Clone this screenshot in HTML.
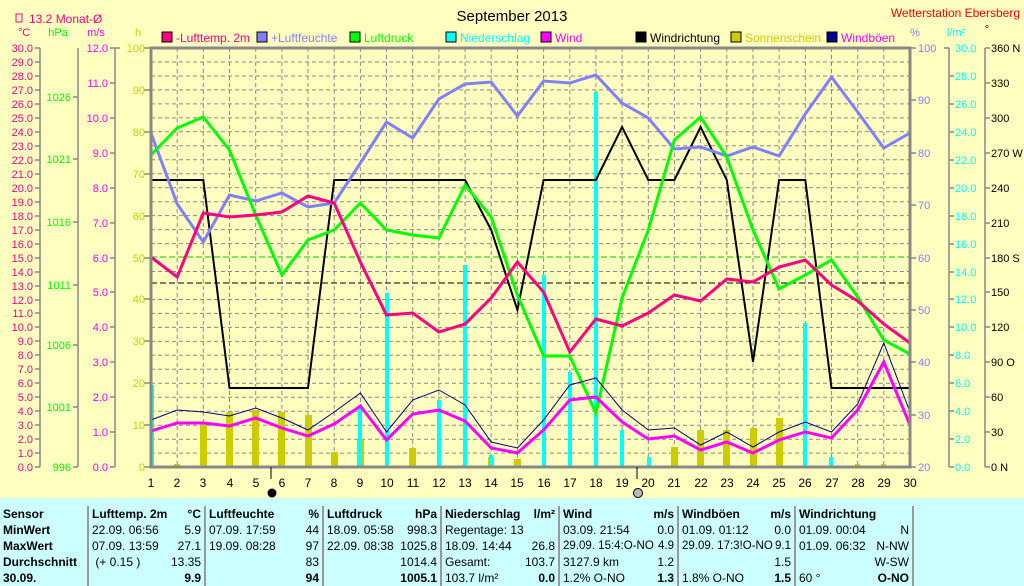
<!DOCTYPE html>
<html><head><meta charset="utf-8"><style>
body{margin:0;width:1024px;height:575px;overflow:hidden;background:#ffffc0;font-family:"Liberation Sans",sans-serif}
svg{position:absolute;left:0;top:0}
table{position:absolute;left:0;top:498px;width:1024px;border-collapse:collapse;background:#ccffff;font-size:12px;table-layout:fixed}
td{padding:0 3px;height:16px;white-space:nowrap;vertical-align:middle;overflow:hidden}
td>div{display:flex;justify-content:space-between;white-space:nowrap;height:16px;line-height:16px}
.b{font-weight:bold}
.s{border-right:2px solid #999}
.n{font-size:11.5px}
</style></head><body>
<svg width="1024" height="498" viewBox="0 0 1024 498" font-family="Liberation Sans, sans-serif" font-size="11">
<rect x="151" y="48" width="759" height="419" fill="#ffffc0"/>
<g stroke="#888" stroke-dasharray="4,3" stroke-width="1">
<path d="M177.2 48V467M203.3 48V467M229.5 48V467M255.7 48V467M281.9 48V467M308 48V467M334.2 48V467M360.4 48V467M386.5 48V467M412.7 48V467M438.9 48V467M465.1 48V467M491.2 48V467M517.4 48V467M543.6 48V467M569.8 48V467M595.9 48V467M622.1 48V467M648.3 48V467M674.4 48V467M700.6 48V467M726.8 48V467M753 48V467M779.1 48V467M805.3 48V467M831.5 48V467M857.7 48V467M883.8 48V467"/>
<path d="M151 62H910M151 76H910M151 89.9H910M151 103.9H910M151 117.9H910M151 131.8H910M151 145.8H910M151 159.8H910M151 173.7H910M151 187.7H910M151 201.7H910M151 215.6H910M151 229.6H910M151 243.6H910M151 271.5H910M151 299.5H910M151 313.4H910M151 327.4H910M151 341.4H910M151 355.3H910M151 369.3H910M151 383.3H910M151 397.2H910M151 411.2H910M151 425.2H910M151 439.2H910M151 453.1H910"/>
</g>
<line x1="151" y1="257" x2="910" y2="257" stroke="#00cc00" stroke-dasharray="6,3"/>
<line x1="151" y1="283" x2="910" y2="283" stroke="#000" stroke-dasharray="6,3"/>
<g fill="#cccc00">
<rect x="174" y="464" width="6" height="3"/><rect x="200" y="425" width="7" height="42"/><rect x="226" y="412" width="7" height="55"/><rect x="252" y="410" width="7" height="57"/><rect x="278" y="412" width="7" height="55"/><rect x="305" y="415" width="7" height="52"/><rect x="331" y="452" width="7" height="15"/><rect x="357" y="440" width="7" height="27"/><rect x="409" y="448" width="7" height="19"/><rect x="488" y="457" width="6" height="10"/><rect x="514" y="459" width="7" height="8"/><rect x="671" y="447" width="7" height="20"/><rect x="697" y="430" width="7" height="37"/><rect x="723" y="430" width="7" height="37"/><rect x="750" y="428" width="7" height="39"/><rect x="776" y="418" width="7" height="49"/><rect x="855" y="464" width="5" height="3"/><rect x="881" y="464" width="5" height="3"/>
</g>
<g fill="#00ffff">
<rect x="150" y="385" width="4" height="82"/><rect x="358" y="405" width="4" height="62"/><rect x="385" y="293" width="4" height="174"/><rect x="437" y="400" width="4" height="67"/><rect x="463" y="265" width="4" height="202"/><rect x="489" y="455" width="4" height="12"/><rect x="542" y="275" width="4" height="192"/><rect x="568" y="372" width="4" height="95"/><rect x="594" y="92" width="4" height="375"/><rect x="620" y="430" width="4" height="37"/><rect x="647" y="457" width="4" height="10"/><rect x="803" y="323" width="4" height="144"/><rect x="829" y="457" width="4" height="10"/>
</g>
<g fill="none" stroke-linejoin="miter">
<polyline stroke="#000" stroke-width="2" points="151,180 177.2,180 203.3,180 229.5,388 255.7,388 281.9,388 308,388 334.2,180 360.4,180 386.5,180 412.7,180 438.9,180 465.1,180 491.2,230 517.4,310 543.6,180 569.8,180 595.9,180 622.1,127 648.3,180 674.4,180 700.6,127 726.8,180 753,362 779.1,180 805.3,180 831.5,388 857.7,388 883.8,388 910,388"/>
<polyline stroke="#8080ff" stroke-width="3" points="151,133 177.2,204 203.3,242 229.5,195 255.7,201 281.9,193 308,207 334.2,203 360.4,163 386.5,122 412.7,138 438.9,99 465.1,84 491.2,82 517.4,116 543.6,81 569.8,83 595.9,75 622.1,103 648.3,118 674.4,149 700.6,147 726.8,156 753,147 779.1,156 805.3,114 831.5,77 857.7,112 883.8,148 910,133"/>
<polyline stroke="#00ff00" stroke-width="3" points="151,155 177.2,128 203.3,117 229.5,150 255.7,215 281.9,275 308,240 334.2,230 360.4,203 386.5,230 412.7,235 438.9,238 465.1,185 491.2,217 517.4,295 543.6,356 569.8,356 595.9,413 622.1,298 648.3,230 674.4,140 700.6,117 726.8,157 753,230 779.1,289 805.3,275 831.5,260 857.7,297 883.8,340 910,354"/>
<polyline stroke="#ff0080" stroke-width="3" points="151,257 177.2,277 203.3,213 229.5,217 255.7,215 281.9,212 308,196 334.2,203 360.4,262 386.5,315 412.7,313 438.9,332 465.1,324 491.2,298 517.4,262 543.6,292 569.8,352 595.9,319 622.1,326 648.3,313 674.4,295 700.6,301 726.8,279 753,282 779.1,267 805.3,260 831.5,285 857.7,301 883.8,324 910,343"/>
<polyline stroke="#000080" stroke-width="1" points="151,420 177.2,410 203.3,412 229.5,416 255.7,408 281.9,418 308,430 334.2,412 360.4,393 386.5,432 412.7,400 438.9,390 465.1,405 491.2,442 517.4,448 543.6,420 569.8,385 595.9,378 622.1,410 648.3,430 674.4,428 700.6,445 726.8,432 753,447 779.1,432 805.3,422 831.5,432 857.7,404 883.8,343 910,412"/>
<polyline stroke="#ff00ff" stroke-width="3" points="151,431 177.2,423 203.3,423 229.5,426 255.7,418 281.9,428 308,436 334.2,424 360.4,406 386.5,440 412.7,414 438.9,410 465.1,421 491.2,448 517.4,453 543.6,430 569.8,400 595.9,397 622.1,422 648.3,439 674.4,436 700.6,450 726.8,442 753,453 779.1,440 805.3,432 831.5,438 857.7,410 883.8,362 910,425"/>
</g>
<rect x="151" y="48" width="759" height="419" fill="none" stroke="#888" stroke-width="3"/>
<g stroke="#888" stroke-width="1.5">
<path d="M40 48V467M78 48V467M115 48V467M949 48V467M985 48V467"/>
<path d="M35 48h5M35 62h5M35 76h5M35 90h5M35 104h5M35 118h5M35 132h5M35 146h5M35 160h5M35 174h5M35 188h5M35 202h5M35 216h5M35 230h5M35 244h5M35 258h5M35 272h5M35 286h5M35 300h5M35 313h5M35 327h5M35 341h5M35 355h5M35 369h5M35 383h5M35 397h5M35 411h5M35 425h5M35 439h5M35 453h5M35 467h5"/>
<path d="M73 97h5M73 159h5M73 222h5M73 285h5M73 345h5M73 407h5M73 467h5"/>
<path d="M110 48h10M110 83h5M110 118h5M110 153h5M110 188h5M110 223h5M110 258h5M110 292h5M110 327h5M110 362h5M110 397h5M110 432h5M110 467h5"/>
<path d="M144 48h7M144 90h7M144 132h7M144 174h7M144 216h7M144 258h7M144 299h7M144 341h7M144 383h7M144 425h7M144 467h7"/>
<path d="M910 48h6M910 100h6M910 153h6M910 205h6M910 258h6M910 310h6M910 362h6M910 415h6M910 467h6"/>
<path d="M944 48h5M949 76h5M949 104h5M949 132h5M949 160h5M949 188h5M949 216h5M949 244h5M949 272h5M949 299h5M949 327h5M949 355h5M949 383h5M949 411h5M949 439h5M949 467h5"/>
<path d="M985 48h5M985 83h5M985 118h5M985 153h5M985 188h5M985 223h5M985 258h5M985 292h5M985 327h5M985 362h5M985 397h5M985 432h5M985 467h5"/>
</g>
<text x="512" y="21" font-size="15" text-anchor="middle" fill="#000">September 2013</text>
<text x="1020" y="17" font-size="12" text-anchor="end" fill="#ff0000">Wetterstation Ebersberg</text>
<rect x="16" y="14" width="6" height="8" fill="none" stroke="#ff0080"/>
<text x="29" y="23" font-size="12" fill="#ff0080">13.2 Monat-Ø</text>
<text x="24" y="36" fill="#ff0080" text-anchor="middle">°C</text>
<text x="58" y="36" fill="#00ff00" text-anchor="middle">hPa</text>
<text x="96" y="36" fill="#ff00ff" text-anchor="middle">m/s</text>
<text x="138" y="36" fill="#cccc00" text-anchor="middle">h</text>
<text x="915" y="36" fill="#8080ff" text-anchor="middle">%</text>
<text x="956" y="36" fill="#00ffff" text-anchor="middle">l/m²</text>
<text x="987" y="33" fill="#000" text-anchor="middle">°</text>
<g font-size="12">
<rect x="162" y="32" width="10" height="10" fill="#ff0080" stroke="#000"/><text x="176" y="42" fill="#ff0080">-Lufttemp. 2m</text>
<rect x="257" y="32" width="10" height="10" fill="#8080ff" stroke="#000"/><text x="271" y="42" fill="#8080ff">+Luftfeuchte</text>
<rect x="350" y="32" width="10" height="10" fill="#00ff00" stroke="#000"/><text x="364" y="42" fill="#00ff00">Luftdruck</text>
<rect x="446" y="32" width="10" height="10" fill="#00ffff" stroke="#000"/><text x="460" y="42" fill="#00ffff">Niederschlag</text>
<rect x="541" y="32" width="10" height="10" fill="#ff00ff" stroke="#000"/><text x="555" y="42" fill="#ff00ff">Wind</text>
<rect x="636" y="32" width="10" height="10" fill="#000" stroke="#000"/><text x="650" y="42" fill="#000">Windrichtung</text>
<rect x="731" y="32" width="10" height="10" fill="#cccc00" stroke="#000"/><text x="745" y="42" fill="#cccc00">Sonnenschein</text>
<rect x="827" y="32" width="10" height="10" fill="#000099" stroke="#000"/><text x="841" y="42" fill="#ff00ff">Windböen</text>
</g>
<g fill="#ff0080" text-anchor="end" font-size="11">
<text x="33" y="52">30.0</text><text x="33" y="66">29.0</text><text x="33" y="80">28.0</text><text x="33" y="94">27.0</text><text x="33" y="108">26.0</text><text x="33" y="122">25.0</text><text x="33" y="136">24.0</text><text x="33" y="150">23.0</text><text x="33" y="164">22.0</text><text x="33" y="178">21.0</text><text x="33" y="192">20.0</text><text x="33" y="206">19.0</text><text x="33" y="220">18.0</text><text x="33" y="234">17.0</text><text x="33" y="248">16.0</text><text x="33" y="262">15.0</text><text x="33" y="276">14.0</text><text x="33" y="290">13.0</text><text x="33" y="304">12.0</text><text x="33" y="317">11.0</text><text x="33" y="331">10.0</text><text x="33" y="345">9.0</text><text x="33" y="359">8.0</text><text x="33" y="373">7.0</text><text x="33" y="387">6.0</text><text x="33" y="401">5.0</text><text x="33" y="415">4.0</text><text x="33" y="429">3.0</text><text x="33" y="443">2.0</text><text x="33" y="457">1.0</text><text x="33" y="471">0.0</text>
</g>
<g fill="#00ff00" text-anchor="end"><text x="71" y="101">1026</text><text x="71" y="163">1021</text><text x="71" y="226">1016</text><text x="71" y="289">1011</text><text x="71" y="349">1006</text><text x="71" y="411">1001</text><text x="71" y="471">996</text></g>
<g fill="#ff00ff" text-anchor="end"><text x="108" y="52">12.0</text><text x="108" y="87">11.0</text><text x="108" y="122">10.0</text><text x="108" y="157">9.0</text><text x="108" y="192">8.0</text><text x="108" y="227">7.0</text><text x="108" y="262">6.0</text><text x="108" y="296">5.0</text><text x="108" y="331">4.0</text><text x="108" y="366">3.0</text><text x="108" y="401">2.0</text><text x="108" y="436">1.0</text><text x="108" y="471">0.0</text></g>
<g fill="#cccc00" text-anchor="end"><text x="145" y="52">100</text><text x="145" y="94">90</text><text x="145" y="136">80</text><text x="145" y="178">70</text><text x="145" y="220">60</text><text x="145" y="262">50</text><text x="145" y="303">40</text><text x="145" y="345">30</text><text x="145" y="387">20</text><text x="145" y="429">10</text><text x="145" y="471">0</text></g>
<g fill="#8080ff"><text x="918" y="52">100</text><text x="918" y="104">90</text><text x="918" y="157">80</text><text x="918" y="209">70</text><text x="918" y="262">60</text><text x="918" y="314">50</text><text x="918" y="366">40</text><text x="918" y="419">30</text><text x="918" y="471">20</text></g>
<g fill="#00ffff"><text x="955" y="52">30.0</text><text x="955" y="80">28.0</text><text x="955" y="108">26.0</text><text x="955" y="136">24.0</text><text x="955" y="164">22.0</text><text x="955" y="192">20.0</text><text x="955" y="220">18.0</text><text x="955" y="248">16.0</text><text x="955" y="276">14.0</text><text x="955" y="303">12.0</text><text x="955" y="331">10.0</text><text x="955" y="359">8.0</text><text x="955" y="387">6.0</text><text x="955" y="415">4.0</text><text x="955" y="443">2.0</text><text x="955" y="471">0.0</text></g>
<g fill="#000"><text x="991" y="52">360 N</text><text x="991" y="87">330</text><text x="991" y="122">300</text><text x="991" y="157">270 W</text><text x="991" y="192">240</text><text x="991" y="227">210</text><text x="991" y="262">180 S</text><text x="991" y="296">150</text><text x="991" y="331">120</text><text x="991" y="366">90  O</text><text x="991" y="401">60</text><text x="991" y="436">30</text><text x="991" y="471">0   N</text></g>
<g fill="#000" text-anchor="middle" font-size="12">
<text x="151" y="487">1</text><text x="177" y="487">2</text><text x="203" y="487">3</text><text x="230" y="487">4</text><text x="256" y="487">5</text><text x="282" y="487">6</text><text x="308" y="487">7</text><text x="334" y="487">8</text><text x="360" y="487">9</text><text x="387" y="487">10</text><text x="413" y="487">11</text><text x="439" y="487">12</text><text x="465" y="487">13</text><text x="491" y="487">14</text><text x="517" y="487">15</text><text x="544" y="487">16</text><text x="570" y="487">17</text><text x="596" y="487">18</text><text x="622" y="487">19</text><text x="648" y="487">20</text><text x="674" y="487">21</text><text x="701" y="487">22</text><text x="727" y="487">23</text><text x="753" y="487">24</text><text x="779" y="487">25</text><text x="805" y="487">26</text><text x="832" y="487">27</text><text x="858" y="487">28</text><text x="884" y="487">29</text><text x="910" y="487">30</text>
</g>
<path d="M271 467v12M637 467v12" stroke="#000"/>
<circle cx="272" cy="493" r="4.5" fill="#000"/>
<circle cx="638" cy="493" r="4.5" fill="#bbb" stroke="#000"/>
</svg>
<table>
<colgroup><col style="width:88px"><col style="width:117px"><col style="width:118px"><col style="width:118px"><col style="width:118px"><col style="width:119px"><col style="width:117px"><col style="width:118px"><col style="width:111px"></colgroup>
<tr style="height:8px"><td colspan="9" style="height:8px;padding:0"></td></tr>
<tr><td class="b s">Sensor</td><td class="b s"><div><span>Lufttemp. 2m</span><span>°C</span></div></td><td class="b s"><div><span>Luftfeuchte</span><span>%</span></div></td><td class="b s"><div><span>Luftdruck</span><span>hPa</span></div></td><td class="b s"><div><span>Niederschlag</span><span>l/m²</span></div></td><td class="b s"><div><span>Wind</span><span>m/s</span></div></td><td class="b s"><div><span>Windböen</span><span>m/s</span></div></td><td class="b s">Windrichtung</td><td></td></tr>
<tr><td class="b s">MinWert</td><td class="s"><div><span>22.09. 06:56</span><span>5.9</span></div></td><td class="s"><div><span>07.09. 17:59</span><span>44</span></div></td><td class="s"><div><span>18.09. 05:58</span><span>998.3</span></div></td><td class="s">Regentage: 13</td><td class="s"><div><span>03.09. 21:54</span><span>0.0</span></div></td><td class="s"><div><span>01.09. 01:12</span><span>0.0</span></div></td><td class="s"><div><span>01.09. 00:04</span><span>N</span></div></td><td></td></tr>
<tr><td class="b s">MaxWert</td><td class="s"><div><span>07.09. 13:59</span><span>27.1</span></div></td><td class="s"><div><span>19.09. 08:28</span><span>97</span></div></td><td class="s"><div><span>22.09. 08:38</span><span>1025.8</span></div></td><td class="s"><div><span>18.09. 14:44</span><span>26.8</span></div></td><td class="s n"><div><span>29.09. 15:4:O-NO</span><span>4.9</span></div></td><td class="s n"><div><span>29.09. 17:3!O-NO</span><span>9.1</span></div></td><td class="s"><div><span>01.09. 06:32</span><span>N-NW</span></div></td><td></td></tr>
<tr><td class="b s">Durchschnitt</td><td class="s"><div><span>&nbsp;(+ 0.15 )</span><span>13.35</span></div></td><td class="s"><div><span></span><span>83</span></div></td><td class="s"><div><span></span><span>1014.4</span></div></td><td class="s"><div><span>Gesamt:</span><span>103.7</span></div></td><td class="s"><div><span>3127.9 km</span><span>1.2</span></div></td><td class="s"><div><span></span><span>1.5</span></div></td><td class="s"><div><span></span><span>W-SW</span></div></td><td></td></tr>
<tr><td class="b s">30.09.</td><td class="s"><div><span></span><span class="b">9.9</span></div></td><td class="s"><div><span></span><span class="b">94</span></div></td><td class="s"><div><span></span><span class="b">1005.1</span></div></td><td class="s"><div><span>103.7 l/m²</span><span class="b">0.0</span></div></td><td class="s"><div><span>1.2% O-NO</span><span class="b">1.3</span></div></td><td class="s"><div><span>1.8% O-NO</span><span class="b">1.5</span></div></td><td class="s"><div><span>60 °</span><span class="b">O-NO</span></div></td><td></td></tr>
</table>
</body></html>
